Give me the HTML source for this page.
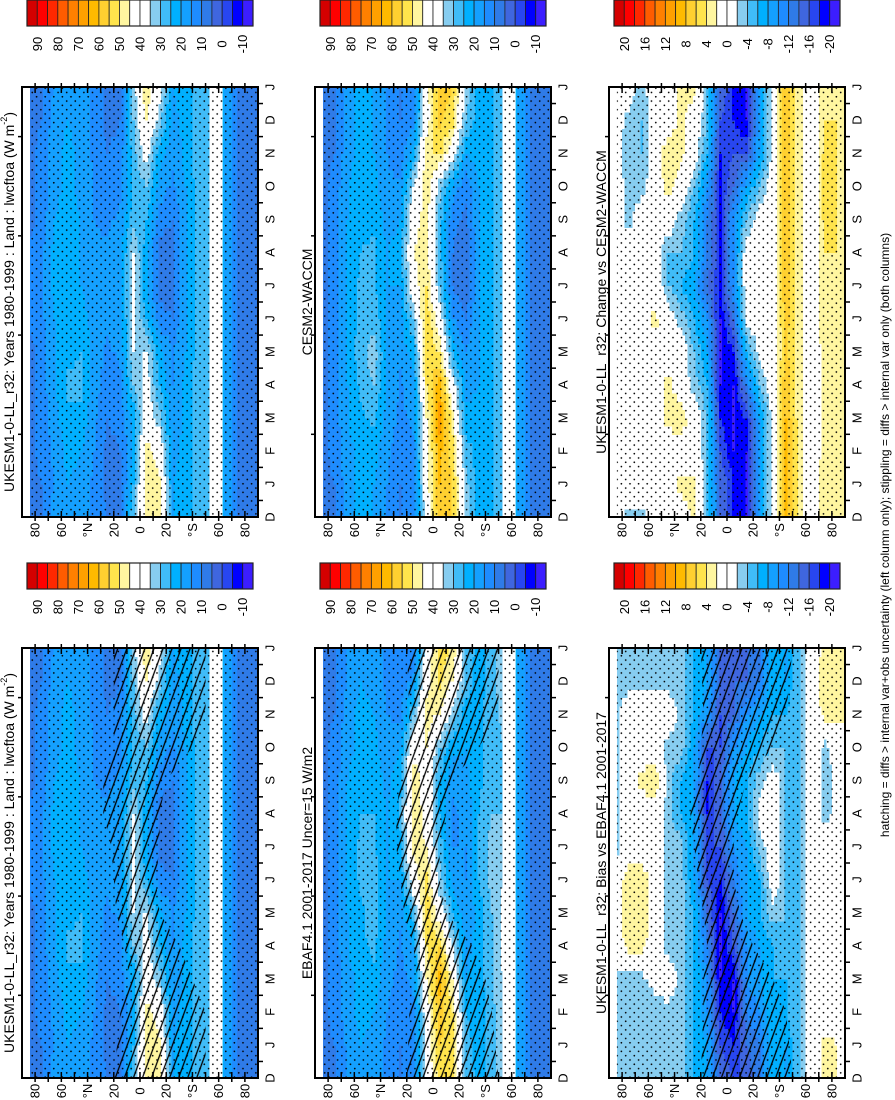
<!DOCTYPE html>
<html><head><meta charset="utf-8"><style>
html,body{margin:0;padding:0;background:#fff}
svg{display:block;font-family:"Liberation Sans",sans-serif}
</style></head><body>
<svg id="fig" width="895" height="1100" viewBox="0 0 895 1100" xmlns="http://www.w3.org/2000/svg">
<defs>
<pattern id="stip" patternUnits="userSpaceOnUse" width="8.6" height="8.6"><circle cx="2.2" cy="2.2" r="0.85" fill="#000"/><circle cx="6.5" cy="6.5" r="0.85" fill="#000"/></pattern>
<pattern id="hatch" patternUnits="userSpaceOnUse" width="8.5" height="40" patternTransform="rotate(20)"><line x1="1" y1="0" x2="1" y2="40" stroke="#000" stroke-width="1.3"/></pattern>
</defs>
</svg>
<script>
// month rows bottom->top: D J F M A M J J A S O N D J ; bands 85N..85S (10 deg)
const monthLabels=['D','J','F','M','A','M','J','J','A','S','O','N','D','J'];
const latBands=[85,75,65,55,45,35,25,15,5,-5,-15,-25,-35,-45,-55,-65,-75,-85];
const latTickLabels=['80','60','°N','20','0','20','°S','60','80'];
const latTickValues=[80,60,40,20,0,-20,-40,-60,-80];
const absTickLabels=['90','80','70','60','50','40','30','20','10','0','-10'];
const diffTickLabels=['20','16','12','8','4','0','-4','-8','-12','-16','-20'];
const ukesmVals=[
[8,10,18,20,18,14,10,10,30,48,45,20,22,28,30,20,10,8],
[8,10,16,20,18,14,8,8,25,50,46,20,22,28,30,20,10,8],
[8,12,16,22,20,15,8,10,20,48,42,18,22,28,30,20,10,8],
[8,12,18,24,24,16,10,12,22,40,32,16,22,28,30,20,10,8],
[8,12,20,26,26,18,12,14,30,38,25,15,22,28,30,20,10,8],
[8,12,20,24,25,18,14,16,35,35,22,15,20,28,30,20,10,8],
[10,14,20,24,22,18,16,18,36,25,12,10,20,28,30,20,10,8],
[10,14,22,24,20,17,16,18,38,20,8,8,20,28,30,20,10,8],
[10,14,22,24,20,16,16,18,36,22,8,8,20,28,30,20,10,8],
[8,12,20,22,20,15,14,16,28,25,12,10,20,28,30,20,10,8],
[8,12,18,22,18,15,12,14,25,30,18,14,20,28,30,20,10,8],
[8,12,18,22,18,14,10,12,28,38,22,16,22,28,30,20,10,8],
[8,10,18,20,18,14,8,10,30,46,32,18,22,28,30,20,10,8],
[8,10,16,20,18,14,8,10,32,50,38,20,22,28,30,20,10,8]];
const cesmVals=[
[8,10,18,22,20,15,10,12,40,58,55,35,22,25,30,20,8,8],
[8,10,18,22,20,15,10,12,42,60,55,32,22,25,30,20,8,8],
[8,12,18,22,22,16,12,14,42,62,52,28,22,25,30,20,8,8],
[8,12,20,24,26,18,14,16,45,68,48,22,22,25,30,20,8,8],
[8,12,20,26,30,20,14,18,50,62,38,18,20,25,30,20,8,8],
[8,12,22,28,33,20,16,22,55,50,25,15,20,25,30,20,8,8],
[8,12,22,26,28,20,18,30,55,40,15,10,20,25,30,20,8,8],
[8,12,22,26,26,20,20,42,50,30,10,6,20,25,30,20,8,8],
[8,12,22,25,26,20,22,45,48,28,10,6,20,25,30,20,8,8],
[8,12,20,24,24,18,20,42,48,28,12,8,20,25,30,20,8,8],
[8,12,20,22,22,16,16,35,50,32,18,12,20,25,30,20,8,8],
[8,10,18,22,20,15,12,22,48,52,40,20,22,25,30,20,8,8],
[8,10,18,22,20,15,10,14,42,56,52,30,22,25,30,20,8,8],
[8,10,18,22,20,15,10,12,42,58,55,35,22,25,30,20,8,8]];
const changeVals=[
[0,-3,-3,0,0,0,3,-4,-14,-18,-20,-8,-1,8,3,0,4,4],
[0,0,0,0,0,3,3,-4,-14,-18,-20,-8,-1,9,3,0,4,4],
[0,0,0,0,0,0,0,-4,-16,-20,-20,-8,-1,9,3,0,3,3],
[0,0,0,0,3,4,0,-4,-18,-20,-18,-8,-1,8,3,0,3,3],
[0,0,0,0,3,0,-3,-6,-20,-20,-12,-4,0,8,3,0,3,3],
[0,0,0,0,0,0,-4,-8,-20,-18,-6,-1,0,6,3,0,3,3],
[0,0,0,3,0,-3,-6,-10,-20,-14,-1,0,0,7,3,0,4,4],
[0,0,0,0,-4,-6,-8,-14,-18,-10,0,0,0,8,3,0,4,4],
[0,0,0,0,-4,-4,-6,-12,-18,-10,0,0,0,8,3,0,4,4],
[0,-3,0,0,0,-3,-6,-12,-18,-10,-4,0,0,8,3,0,5,4],
[0,-3,-3,0,3,0,-4,-10,-18,-14,-8,-4,0,8,3,0,5,4],
[0,-4,-4,0,4,3,0,-6,-18,-16,-16,-8,-1,8,3,0,5,4],
[0,-3,-4,0,0,3,0,-4,-16,-18,-20,-8,-1,8,3,0,4,4],
[0,0,-3,0,0,3,3,-4,-14,-18,-20,-8,-1,8,3,0,4,4]];
const ebafVals=[
[8,10,16,20,18,14,10,12,38,52,50,30,22,28,35,20,10,8],
[8,10,16,20,18,14,10,12,40,55,52,28,22,28,35,20,10,8],
[8,12,18,22,20,15,12,14,40,58,50,25,22,28,35,20,10,8],
[8,12,18,22,24,16,14,16,45,62,45,20,22,30,36,20,10,8],
[8,12,20,24,26,18,14,20,50,55,35,18,22,30,38,20,10,8],
[8,12,20,24,28,20,16,28,55,40,25,16,22,30,38,20,10,8],
[8,12,22,26,28,20,20,40,52,32,18,15,25,32,35,20,10,8],
[8,12,22,26,26,20,24,48,45,28,15,15,26,32,32,20,10,8],
[8,12,22,25,25,20,26,50,42,25,14,16,25,30,30,20,10,8],
[8,12,20,24,24,18,24,48,42,25,16,18,24,28,30,20,10,8],
[8,12,18,22,22,16,20,42,45,30,22,20,24,28,30,20,10,8],
[8,10,18,22,20,15,14,30,48,45,32,22,24,28,32,20,10,8],
[8,10,16,20,18,14,12,16,42,52,45,28,22,28,34,20,10,8],
[8,10,16,20,18,14,10,12,40,52,50,30,22,28,35,20,10,8]];
const biasVals=[
[-3,-3,-3,-3,-3,-3,-6,-8,-14,-16,-16,-12,-6,-8,-4,0,3,2],
[-3,-3,-3,-3,-3,-3,-6,-8,-16,-18,-14,-12,-6,-8,-4,0,3,2],
[-3,-3,-3,-3,-3,-3,-6,-10,-18,-20,-12,-10,-6,-6,-4,0,0,0],
[-3,-3,-3,-1,0,-3,-6,-10,-20,-20,-10,-8,-6,-6,-4,0,0,0],
[0,3,3,0,-3,-3,-6,-12,-20,-16,-10,-8,-6,-4,-4,0,0,0],
[0,4,4,0,-3,-3,-6,-14,-20,-14,-8,-6,-3,-4,-4,0,0,0],
[0,4,4,0,-3,-3,-8,-16,-18,-12,-8,-6,0,-4,-4,0,0,0],
[-3,0,0,0,-3,-3,-8,-16,-16,-10,-8,-3,0,-4,-4,0,0,0],
[-3,0,0,0,-3,-6,-8,-18,-14,-8,-6,-1,0,-4,-4,0,-3,-1],
[-3,0,3,4,-3,-6,-8,-18,-14,-8,-6,-3,0,-4,-4,0,-3,-1],
[-3,0,0,0,-3,-3,-8,-16,-16,-10,-8,-6,-4,-4,-4,0,-3,0],
[-3,0,0,0,0,-3,-6,-10,-16,-14,-10,-8,-6,-6,-4,0,3,3],
[-3,-3,-3,-3,-3,-3,-6,-8,-14,-14,-14,-12,-6,-8,-4,0,4,3],
[-3,-3,-3,-3,-3,-3,-6,-8,-14,-14,-14,-12,-6,-8,-4,0,3,2]];

const palette=['#d40000','#ff0000','#ff2800','#ff5c00','#ff8000','#ffa000','#ffba00','#ffd030','#ffe44c','#fff6a0','#ffffff','#ffffff','#87cdf0','#40bcf8','#00b0ff','#14a0ff','#1e8cff','#2f7be8','#3f66df','#2846f0','#0000ff','#3c1eff'];
const NS='http://www.w3.org/2000/svg';
const svg=document.getElementById('fig');
const COLX=[22,315,609], ROWY=[87,648], PW=236, PH=430;
function mk(tag,attrs,parent){const e=document.createElementNS(NS,tag);for(const k in attrs)e.setAttribute(k,attrs[k]);(parent||svg).appendChild(e);return e;}
function xLat(x0,lat){return x0+(90-lat)*PW/180;}
function yT(y0,t){return y0+PH-t*PH/13;}
function colorIdx(kind,v){let i=kind==='abs'?Math.floor((95-v)/5):Math.floor((22-v)/2);return Math.max(0,Math.min(21,i));}
function sample(vals,lat,t){
  let fb=(85-lat)/10; fb=Math.max(0,Math.min(17,fb));
  let ft=Math.max(0,Math.min(13,t));
  const b0=Math.floor(fb),b1=Math.min(17,b0+1),fbx=fb-b0;
  const t0=Math.floor(ft),t1=Math.min(13,t0+1),ftx=ft-t0;
  const a=vals[t0][b0]*(1-fbx)+vals[t0][b1]*fbx;
  const b=vals[t1][b0]*(1-fbx)+vals[t1][b1]*fbx;
  return a*(1-ftx)+b*ftx;
}
function rotText(x,y,txt,size,name,anchor){
  const t=mk('text',{x:x,y:y,'font-size':size,'text-anchor':anchor||'middle','dominant-baseline':'central',transform:'rotate(-90 '+x+' '+y+')',fill:'#000'});
  
  
  t.textContent=txt;return t;
}
const hatchD=[[0,20,-50],[2,15,-50],[3,8,-40],[4,12,-30],[5,18,-15],[6,20,-12],[7,22,-15],[8,28,-15],[9,28,-20],[10,20,-40],[11,20,-50],[13,20,-50]];
const hatchE=[[0,20,-50],[2,18,-45],[3,12,-40],[4,15,-30],[5,22,-10],[6,25,-5],[7,28,-5],[8,28,-10],[9,25,-15],[10,20,-35],[11,18,-50],[13,20,-50]];
const hatchF=[[0,20,-50],[2,18,-45],[3,18,-35],[4,15,-20],[5,18,-10],[6,22,-5],[7,25,-5],[8,28,-8],[9,22,-15],[10,20,-35],[11,18,-45],[13,20,-50]];
const T1='UKESM1-0-LL_r32: Years 1980-1999 : Land : lwcftoa (W m';
const panels=[
 {c:0,r:0,vals:ukesmVals,kind:'abs',title:T1,sup:true,hatch:null,gap:true,name:'ukesm-climatology-panel'},
 {c:1,r:0,vals:cesmVals,kind:'abs',title:'CESM2-WACCM',hatch:null,gap:true,name:'cesm2-waccm-panel'},
 {c:2,r:0,vals:changeVals,kind:'diff',title:'UKESM1-0-LL_r32: Change vs CESM2-WACCM',hatch:null,gap:false,name:'change-panel'},
 {c:0,r:1,vals:ukesmVals,kind:'abs',title:T1,sup:true,hatch:hatchD,gap:true,name:'ukesm-hatched-panel'},
 {c:1,r:1,vals:ebafVals,kind:'abs',title:'EBAF4.1 2001-2017 Uncer=15 W/m2',hatch:hatchE,gap:true,name:'ebaf-panel'},
 {c:2,r:1,vals:biasVals,kind:'diff',title:'UKESM1-0-LL_r32: Bias vs EBAF4.1 2001-2017',hatch:hatchF,gap:false,name:'bias-panel'}];

panels.forEach((p,pi)=>{
  const x0=COLX[p.c],y0=ROWY[p.r];
  const g=mk('g',{});
  
  
  const cl=mk('clipPath',{id:'clip'+pi});mk('rect',{x:x0,y:y0,width:PW,height:PH},cl);
  const field=mk('g',{'clip-path':'url(#clip'+pi+')','shape-rendering':'crispEdges'},g);
  
  
  const dl=2,dt=0.25;
  for(let t=0;t<13-1e-9;t+=dt){
    const yTop=yT(y0,t+dt),yBot=yT(y0,t);
    let runStart=84,runIdx=null;
    for(let lat=84;lat>-90-1e-9;lat-=dl){
      const idx=lat>-90+1e-9?colorIdx(p.kind,sample(p.vals,lat-dl/2,t+dt/2)):-1;
      if(idx!==runIdx){
        if(runIdx!==null&&runIdx>=0){
          const r=mk('rect',{x:xLat(x0,runStart).toFixed(2),y:yTop.toFixed(2),width:(xLat(x0,lat)-xLat(x0,runStart)+0.6).toFixed(2),height:(yBot-yTop+0.6).toFixed(2),fill:palette[runIdx]},field);
          
          
        }
        runIdx=idx;runStart=lat;
      }
    }
  }
  if(p.gap){const w=mk('rect',{x:xLat(x0,-53),y:y0,width:xLat(x0,-63)-xLat(x0,-53),height:PH,fill:'#fff'},g);
    }
  const st=mk('rect',{x:xLat(x0,84),y:y0,width:xLat(x0,-90)-xLat(x0,84),height:PH,fill:'url(#stip)','clip-path':'url(#clip'+pi+')'},g);
  
  
  if(p.hatch){
    let pts=[];p.hatch.forEach(h=>pts.push(xLat(x0,h[1]).toFixed(1)+','+yT(y0,h[0]).toFixed(1)));
    p.hatch.slice().reverse().forEach(h=>pts.push(xLat(x0,h[2]).toFixed(1)+','+yT(y0,h[0]).toFixed(1)));
    const hp=mk('polygon',{points:pts.join(' '),fill:'url(#hatch)','clip-path':'url(#clip'+pi+')'},g);
    
    
  }
  const fr=mk('rect',{x:x0,y:y0,width:PW,height:PH,fill:'none',stroke:'#000','stroke-width':2},g);
  
  
  latTickValues.forEach((lv,i)=>{
    const x=xLat(x0,lv);
    mk('line',{x1:x,y1:y0-4,x2:x,y2:y0+6,stroke:'#000','stroke-width':1.5},g);
    mk('line',{x1:x,y1:y0+PH-6,x2:x,y2:y0+PH+4,stroke:'#000','stroke-width':1.5},g);
    rotText(x,y0+PH+13,latTickLabels[i],13,'lat-tick-label');
  });
  [70,50,30,10,-10,-30,-50,-70].forEach(lv=>{const x=xLat(x0,lv);
    mk('line',{x1:x,y1:y0-4,x2:x,y2:y0+6,stroke:'#000','stroke-width':1.5},g);
    mk('line',{x1:x,y1:y0+PH-6,x2:x,y2:y0+PH+4,stroke:'#000','stroke-width':1.5},g);});
  monthLabels.forEach((m,i)=>{rotText(x0+PW+12,yT(y0,i),m,13,'month-label');
    if(i<13){const y=yT(y0,i+0.5);mk('line',{x1:x0+PW,y1:y,x2:x0+PW+5,y2:y,stroke:'#000','stroke-width':1.5},g);}});
  [2.5,5.5,8.5,11.5].forEach(t=>{const y=yT(y0,t);mk('line',{x1:x0-4,y1:y,x2:x0,y2:y,stroke:'#000','stroke-width':1.5},g);});
  const tx=p.c===0?9:x0-8, ty=y0+PH/2;
  const tt=rotText(tx,ty,p.title,14,'panel-title');
  if(p.sup){const s=document.createElementNS(NS,'tspan');s.setAttribute('font-size','9');s.setAttribute('dy','-5');s.textContent='-2';tt.appendChild(s);
    const s2=document.createElementNS(NS,'tspan');s2.setAttribute('dy','5');s2.textContent=')';tt.appendChild(s2);}
});

// colorbars
[0,1].forEach(r=>{[0,1,2].forEach(c=>{
  const kind=c===2?'diff':'abs';
  const cx=COLX[c]+5,cy=r===0?0:563,cw=226/22;
  const g=mk('g',{});
  
  
  palette.forEach((col,k)=>{const rr=mk('rect',{x:cx+k*cw,y:cy,width:cw,height:26,fill:col,stroke:'#222','stroke-width':0.8},g);
    });
  mk('rect',{x:cx,y:cy,width:226,height:26,fill:'none',stroke:'#222','stroke-width':1.2},g);
  const labs=kind==='abs'?absTickLabels:diffTickLabels;
  labs.forEach((l,i)=>rotText(cx+(2*i+1)*cw,cy+44,l,13,'colorbar-label'));
});});

rotText(885,535,'hatching = diffs > internal var+obs uncertainty (left column only); stippling = diffs > internal var only (both columns)',12,'footnote');
</script>
</body></html>
